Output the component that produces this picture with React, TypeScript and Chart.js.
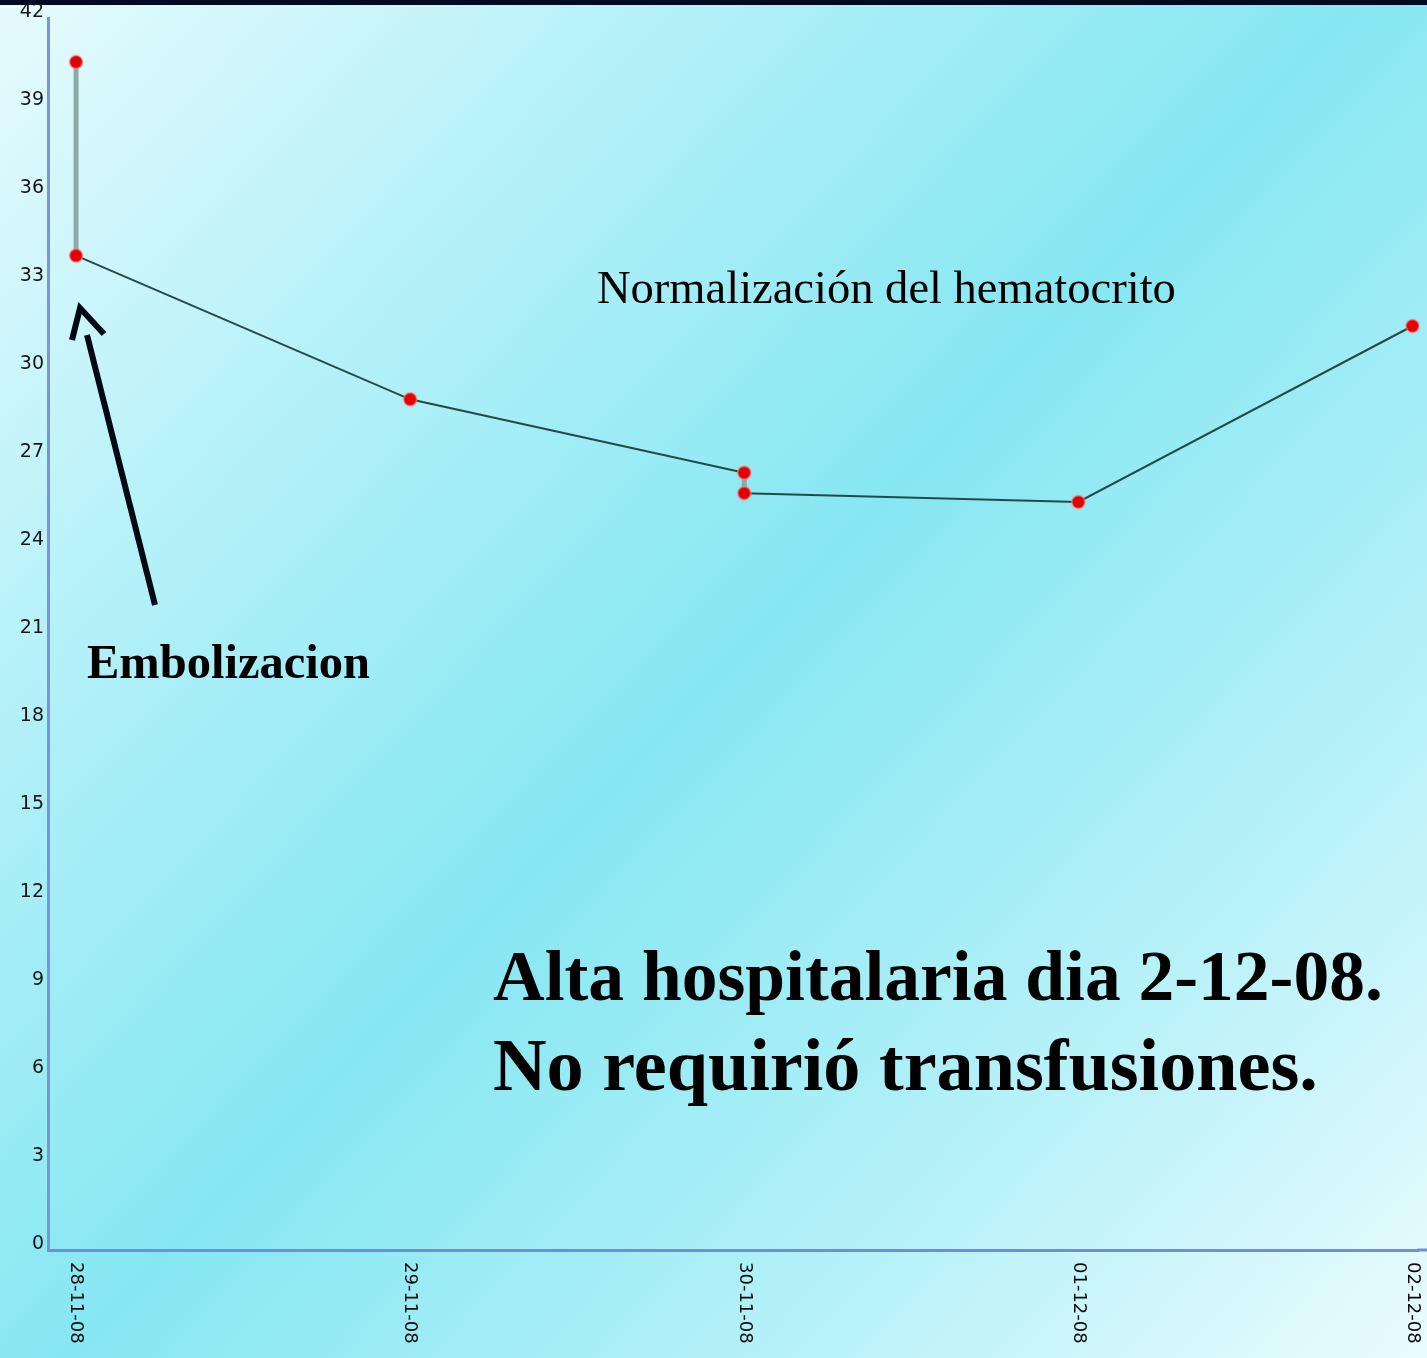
import React, { useEffect, useRef } from "react";
import { Chart, registerables } from "chart.js";

Chart.register(...registerables);

// ---- data ----
const dateLabels = ["28-11-08", "29-11-08", "30-11-08", "01-12-08", "02-12-08"];
const dayIndex = [0, 0, 1, 2, 2, 3, 4];
const hematocrit = [40.5, 33.9, 29.0, 26.5, 25.8, 25.5, 31.5];
const yMin = 0;
const yMax = 42;
const yStep = 3;

const W = 1427;
const H = 1358;

const bgPlugin = {
  id: "bgPlugin",
  beforeDraw(chart: any) {
    const ctx = chart.ctx as CanvasRenderingContext2D;
    ctx.save();
    const g = ctx.createLinearGradient(0, 0, W, H);
    g.addColorStop(0, "#e6fbfe");
    g.addColorStop(0.22, "#baf2f9");
    g.addColorStop(0.5, "#86e7f2");
    g.addColorStop(0.78, "#baf2f9");
    g.addColorStop(1, "#eafcfe");
    ctx.fillStyle = g;
    ctx.fillRect(0, 0, W, H);
    ctx.fillStyle = "#020a22";
    ctx.fillRect(0, 0, W, 5);
    ctx.restore();
  },
};

function fitText(
  ctx: CanvasRenderingContext2D,
  text: string,
  weight: string,
  x: number,
  baseline: number,
  targetWidth: number
) {
  ctx.font = `${weight} 100px "Liberation Serif", serif`;
  const m = ctx.measureText(text).width;
  const size = (100 * targetWidth) / m;
  ctx.font = `${weight} ${size}px "Liberation Serif", serif`;
  ctx.textAlign = "left";
  ctx.textBaseline = "alphabetic";
  ctx.fillText(text, x, baseline);
}

const annotPlugin = {
  id: "annotPlugin",
  afterDraw(chart: any) {
    const ctx = chart.ctx as CanvasRenderingContext2D;
    const xs = chart.scales.x;
    const area = chart.chartArea;
    ctx.save();
    // extend x axis line to the right edge
    ctx.strokeStyle = "#6f90d6";
    ctx.lineWidth = 3;
    ctx.beginPath();
    ctx.moveTo(area.right - 1, area.bottom);
    ctx.lineTo(W, area.bottom);
    ctx.stroke();

    // rotated x tick labels (reading top to bottom)
    ctx.fillStyle = "#0a0a0a";
    ctx.font = '18px "DejaVu Sans", sans-serif';
    ctx.textAlign = "left";
    ctx.textBaseline = "middle";
    dateLabels.forEach((lab, i) => {
      const px = xs.getPixelForValue(i);
      ctx.save();
      ctx.translate(px, area.bottom + 12);
      ctx.rotate(Math.PI / 2);
      ctx.fillText(lab, 0, 0);
      ctx.restore();
    });

    // annotation texts
    ctx.fillStyle = "#000";
    fitText(ctx, "Normalización del hematocrito", "normal", 597, 303, 579);
    fitText(ctx, "Embolizacion", "bold", 87, 678, 283);
    fitText(ctx, "Alta hospitalaria dia 2-12-08.", "bold", 493, 1000, 890);
    fitText(ctx, "No requirió transfusiones.", "bold", 493, 1090, 825);

    // arrow
    ctx.strokeStyle = "#000814";
    ctx.lineWidth = 6;
    ctx.lineCap = "butt";
    ctx.beginPath();
    ctx.moveTo(155, 605);
    ctx.lineTo(87, 335);
    ctx.stroke();
    ctx.lineJoin = "miter";
    ctx.beginPath();
    ctx.moveTo(72, 340);
    ctx.lineTo(80, 308);
    ctx.lineTo(104, 334);
    ctx.stroke();
    ctx.restore();
  },
};

export default function App() {
  const ref = useRef<HTMLCanvasElement | null>(null);
  useEffect(() => {
    document.body.style.margin = "0";
    if (!ref.current) return;
    const points = dayIndex.map((d, i) => ({ x: d, y: hematocrit[i] }));
    const chart = new Chart(ref.current, {
      type: "line",
      data: {
        datasets: [
          {
            data: points,
            tension: 0,
            borderColor: "#274848",
            borderWidth: 2,
            pointRadius: 6.5,
            pointBackgroundColor: "#e20000",
            pointBorderColor: "rgba(255,130,130,0.5)",
            pointBorderWidth: 2,
            clip: false,
            segment: {
              borderColor: (c: any) =>
                c.p0.parsed.x === c.p1.parsed.x ? "#8ea9aa" : "#274848",
              borderWidth: (c: any) => (c.p0.parsed.x === c.p1.parsed.x ? 5 : 2),
            },
          } as any,
        ],
      },
      options: {
        animation: false,
        responsive: false,
        maintainAspectRatio: false,
        layout: { padding: { top: 18, left: 0, right: 0, bottom: 0 } },
        plugins: { legend: { display: false }, tooltip: { enabled: false } },
        scales: {
          x: {
            type: "linear",
            min: -0.084,
            max: 4.018,
            grid: { display: false, drawTicks: false },
            border: { display: true, color: "#6f90d6", width: 3 },
            ticks: { display: false },
            afterFit: (s: any) => {
              s.height = H - 1250;
            },
          },
          y: {
            min: yMin,
            max: yMax,
            grid: { display: false, drawTicks: false },
            border: { display: true, color: "#7b93d8", width: 3 },
            ticks: {
              stepSize: yStep,
              color: "#151515",
              padding: 4,
              labelOffset: -6,
              font: { family: '"DejaVu Sans", sans-serif', size: 19 },
            },
            afterFit: (s: any) => {
              s.width = 48;
            },
          },
        },
      },
      plugins: [bgPlugin, annotPlugin],
    });
    return () => chart.destroy();
  }, []);
  return (
    <div style={{ width: W, height: H }}>
      <canvas ref={ref} width={W} height={H} style={{ display: "block" }} />
    </div>
  );
}
